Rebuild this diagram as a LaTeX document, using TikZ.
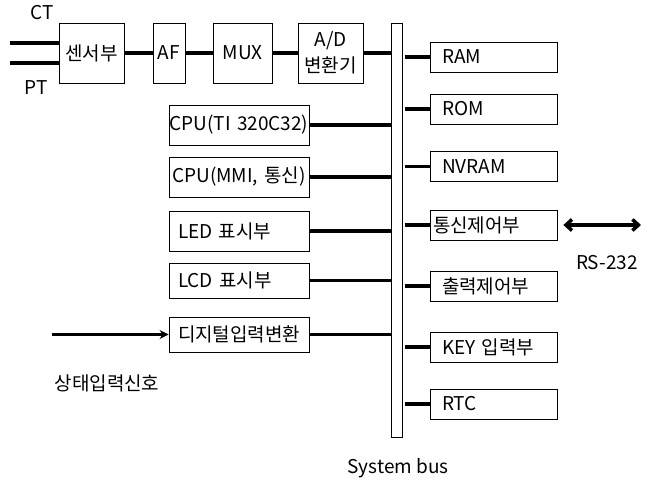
\documentclass[tikz,border=0pt]{standalone}
\usepackage{fontspec}
\setmainfont{Noto Sans CJK KR}
\usetikzlibrary{arrows.meta}
\begin{document}
\begin{tikzpicture}[x=1pt, y=-1pt]
    \tikzset{
        block/.style={draw, line width=0.8pt, inner sep=0, minimum height=60, align=center},
        unit/.style={draw, line width=0.8pt, inner xsep=9, inner ysep=0, text width=122, minimum height=40, align=left},
        part/.style={draw, line width=0.8pt, inner xsep=12, inner ysep=0, text width=103, minimum height=30, align=left},
        wire/.style={line width=3.5pt},
        lbl/.style={inner sep=0}
    }
    \useasboundingbox (0,0) rectangle (656,484);
    \fontsize{19}{21}\selectfont

    % acquisition chain
    \node[block, minimum width=65] (sensor) at (91.5,53) {센서부};
    \node[block, minimum width=32] (af) at (169,53) {AF};
    \node[block, minimum width=59] (mux) at (242.5,53) {MUX};
    \node[block, minimum width=65] (adc) at (330.5,53) {A/D\\[5pt]변환기};

    % system bus
    \node[draw, line width=0.8pt, minimum width=10.5, minimum height=414, inner sep=0] (bus) at (397,230) {};

    % left side
    \node[unit, inner xsep=0.5, text width=139, align=center] (cpua) at (239,125) {CPU(TI 320C32)};
    \node[unit, inner xsep=0.5, text width=139, align=center] (cpub) at (239,177) {CPU(MMI, 통신)};
    \node[unit] (led) at (239,231) {LED 표시부};
    \node[unit, minimum height=35] (lcd) at (239,280.5) {LCD 표시부};
    \node[unit, minimum height=35] (din) at (239,334.5) {디지털입력변환};

    % right side
    \node[part] (ram) at (493.5,57) {RAM};
    \node[part] (rom) at (493.5,109) {ROM};
    \node[part] (nvram) at (493.5,166.5) {NVRAM};
    \node[part, inner xsep=3, text width=121] (comm) at (493.5,225) {통신제어부};
    \node[part] (dout) at (493.5,286) {출력제어부};
    \node[part] (key) at (493.5,347) {KEY 입력부};
    \node[part] (rtc) at (493.5,404) {RTC};

    % free ends
    \coordinate (ct) at (10,43);
    \coordinate (pt) at (10,63);
    \coordinate (sig) at (52,334.5);
    \coordinate (rs) at (641,225);

    \node[lbl] (ctlbl) at (42,13) {CT};
    \node[lbl] (ptlbl) at (36,88) {PT};
    \node[lbl] (siglbl) at (107,383) {상태입력신호};
    \node[lbl] (rslbl) at (607,263) {RS-232};
    \node[lbl] (buslbl) at (398,468) {System bus};

    \draw[wire] (ct) -- (ct -| sensor.west);
    \draw[wire] (pt) -- (pt -| sensor.west);
    \draw[wire] (sensor) -- (af);
    \draw[wire] (af) -- (mux);
    \draw[wire] (mux) -- (adc);
    \draw[wire] (adc.east) -- (adc.east -| bus.west);

    \foreach \n in {cpua,cpub,led,lcd,din}{
        \draw[wire] (\n.east) -- (\n.east -| bus.west);
    }
    \foreach \n in {ram,rom,nvram,comm,dout,key,rtc}{
        \draw[wire] ([xshift=2]\n.west -| bus.east) -- (\n.west);
    }

    \draw[wire, -{Stealth[length=9pt, width=9pt]}] (sig) -- (din.west);
    \draw[wire, {Straight Barb[length=6pt, width=11pt]}-{Straight Barb[length=6pt, width=11pt]}] ([xshift=6]comm.east) -- (rs);
\end{tikzpicture}
\end{document}
